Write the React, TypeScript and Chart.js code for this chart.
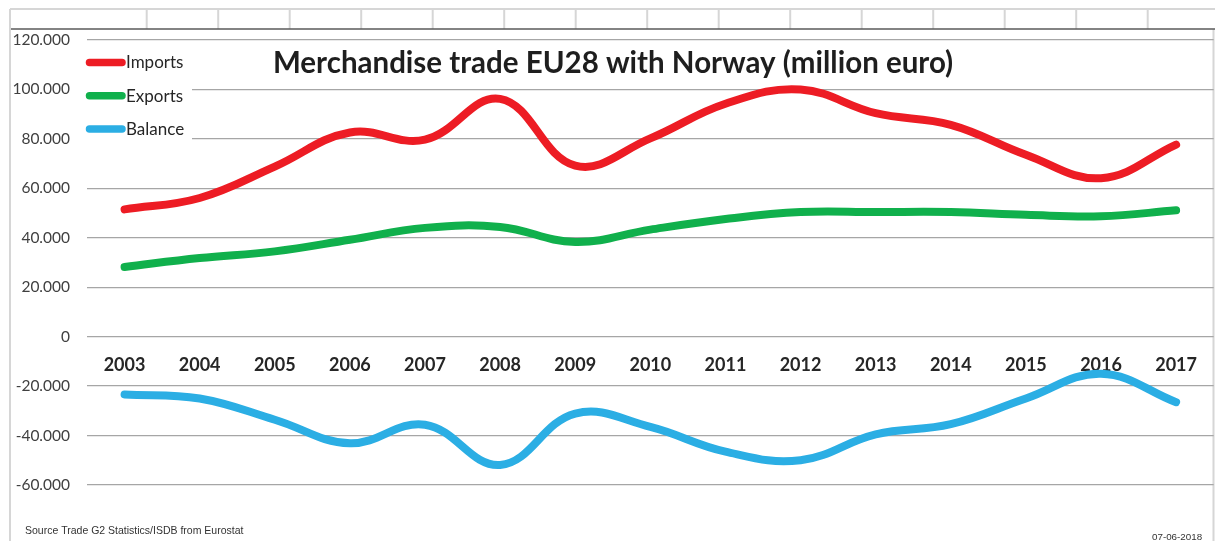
import React, { useEffect, useRef } from 'react';
import { Chart, registerables } from 'chart.js';

Chart.register(...registerables);

const years = ['2003', '2004', '2005', '2006', '2007', '2008', '2009', '2010', '2011', '2012', '2013', '2014', '2015', '2016', '2017'];
const imports = [51500, 56100, 68800, 82600, 79700, 96200, 69200, 80200, 94200, 100000, 90400, 85700, 73600, 64100, 77700];
const exportsData = [28200, 31800, 34500, 39200, 44000, 44400, 38300, 43300, 47600, 50400, 50400, 50400, 49300, 48700, 51100];
const balance = [-23400, -25000, -33600, -43100, -35600, -51900, -31100, -36500, -46500, -50000, -39500, -35400, -25000, -15000, -26500];
const seriesNames = ['Imports', 'Exports', 'Balance'];
const seriesColors = ['#ED1C24', '#10B04C', '#2BAEE4'];
const yMin = -60000;
const yMax = 120000;
const yStep = 20000;
const titleText = 'Merchandise trade EU28 with Norway (million euro)';
const sourceText = 'Source Trade G2 Statistics/ISDB from Eurostat';
const dateText = '07-06-2018';

const W = 1215;
const H = 541;

function seg(ctx: CanvasRenderingContext2D, x1: number, y1: number, x2: number, y2: number) {
  ctx.beginPath();
  ctx.moveTo(x1, y1);
  ctx.lineTo(x2, y2);
  ctx.stroke();
}

const decor = {
  id: 'decor',
  beforeDraw(chart: any) {
    const ctx: CanvasRenderingContext2D = chart.ctx;
    ctx.save();
    ctx.fillStyle = '#ffffff';
    ctx.fillRect(0, 0, W, H);
    ctx.strokeStyle = '#d6d6d6';
    ctx.lineWidth = 2;
    seg(ctx, 10, 9, W, 9);
    seg(ctx, 10, 9, 10, H);
    seg(ctx, 1213.5, 29, 1213.5, H);
    for (let k = 0; k < 15; k++) {
      const x = 146.7 + 71.5 * k;
      seg(ctx, x, 9, x, 29);
    }
    ctx.strokeStyle = '#5a5a5a';
    ctx.lineWidth = 1.5;
    seg(ctx, 11, 29, W, 29);
    ctx.restore();
  },
  beforeDatasetsDraw(chart: any) {
    const ctx: CanvasRenderingContext2D = chart.ctx;
    ctx.save();
    // legend
    ctx.fillStyle = '#ffffff';
    ctx.fillRect(84, 46, 108, 100);
    chart.data.datasets.forEach((ds: any, i: number) => {
      const y = 62.5 + i * 33.3;
      ctx.strokeStyle = ds.borderColor;
      ctx.lineWidth = 7.5;
      ctx.lineCap = 'round';
      seg(ctx, 89.5, y, 122, y);
      ctx.fillStyle = '#262626';
      ctx.font = '17px Lato';
      ctx.textAlign = 'left';
      ctx.textBaseline = 'middle';
      ctx.fillText(ds.label, 126, y + 0.5);
    });
    // title
    ctx.fillStyle = '#1e1e1e';
    ctx.font = 'bold 29.5px Lato';
    ctx.textAlign = 'center';
    ctx.textBaseline = 'middle';
    ctx.fillText(titleText, 613, 63);
    // source & date
    ctx.fillStyle = '#333333';
    ctx.font = '10.5px "Liberation Sans"';
    ctx.textAlign = 'left';
    ctx.fillText(sourceText, 25, 531);
    ctx.font = '9.8px "Liberation Sans"';
    ctx.fillText(dateText, 1152, 537);
    ctx.restore();
  },
};

function fmt(v: number): string {
  if (v === 0) return '0';
  const s = String(Math.abs(v)).replace(/\B(?=(\d{3})+(?!\d))/g, '.');
  return (v < 0 ? '-' : '') + s;
}

export default function App() {
  const ref = useRef<HTMLCanvasElement>(null);
  useEffect(() => {
    if (!ref.current) return;
    const chart = new Chart(ref.current, {
      type: 'line',
      data: {
        labels: years,
        datasets: [imports, exportsData, balance].map((d, i) => ({
          label: seriesNames[i],
          data: d,
          borderColor: seriesColors[i],
          backgroundColor: seriesColors[i],
          borderWidth: 8,
          tension: 0.4,
          pointRadius: 0,
          borderCapStyle: 'round' as const,
          borderJoinStyle: 'round' as const,
          fill: false,
        })),
      },
      options: {
        responsive: false,
        animation: false,
        devicePixelRatio: 1,
        layout: { padding: { left: 12, top: 40, bottom: 56, right: 0 } },
        plugins: {
          legend: { display: false },
          tooltip: { enabled: false },
          title: { display: false },
        },
        scales: {
          x: {
            type: 'category',
            offset: true,
            position: { y: 0 } as any,
            grid: { display: false, drawTicks: false },
            border: { display: false },
            ticks: {
              color: '#262626',
              font: { family: 'Lato', size: 18, weight: 'bold' },
              padding: 18,
              maxRotation: 0,
              autoSkip: false,
            },
          },
          y: {
            min: yMin,
            max: yMax,
            grid: { color: '#a6a6a6', lineWidth: 1.3, drawTicks: false },
            border: { display: false },
            afterFit: (scale: any) => {
              scale.width = 75;
            },
            ticks: {
              stepSize: yStep,
              color: '#404040',
              font: { family: 'Lato', size: 15.5 },
              padding: 17,
              callback: (v: any) => fmt(Number(v)),
            },
          },
        },
      },
      plugins: [decor],
    });
    return () => chart.destroy();
  }, []);
  return (
    <div style={{ position: 'fixed', left: 0, top: 0, width: W, height: H }}>
      <canvas ref={ref} width={W} height={H} style={{ width: W, height: H, display: 'block' }} />
    </div>
  );
}
